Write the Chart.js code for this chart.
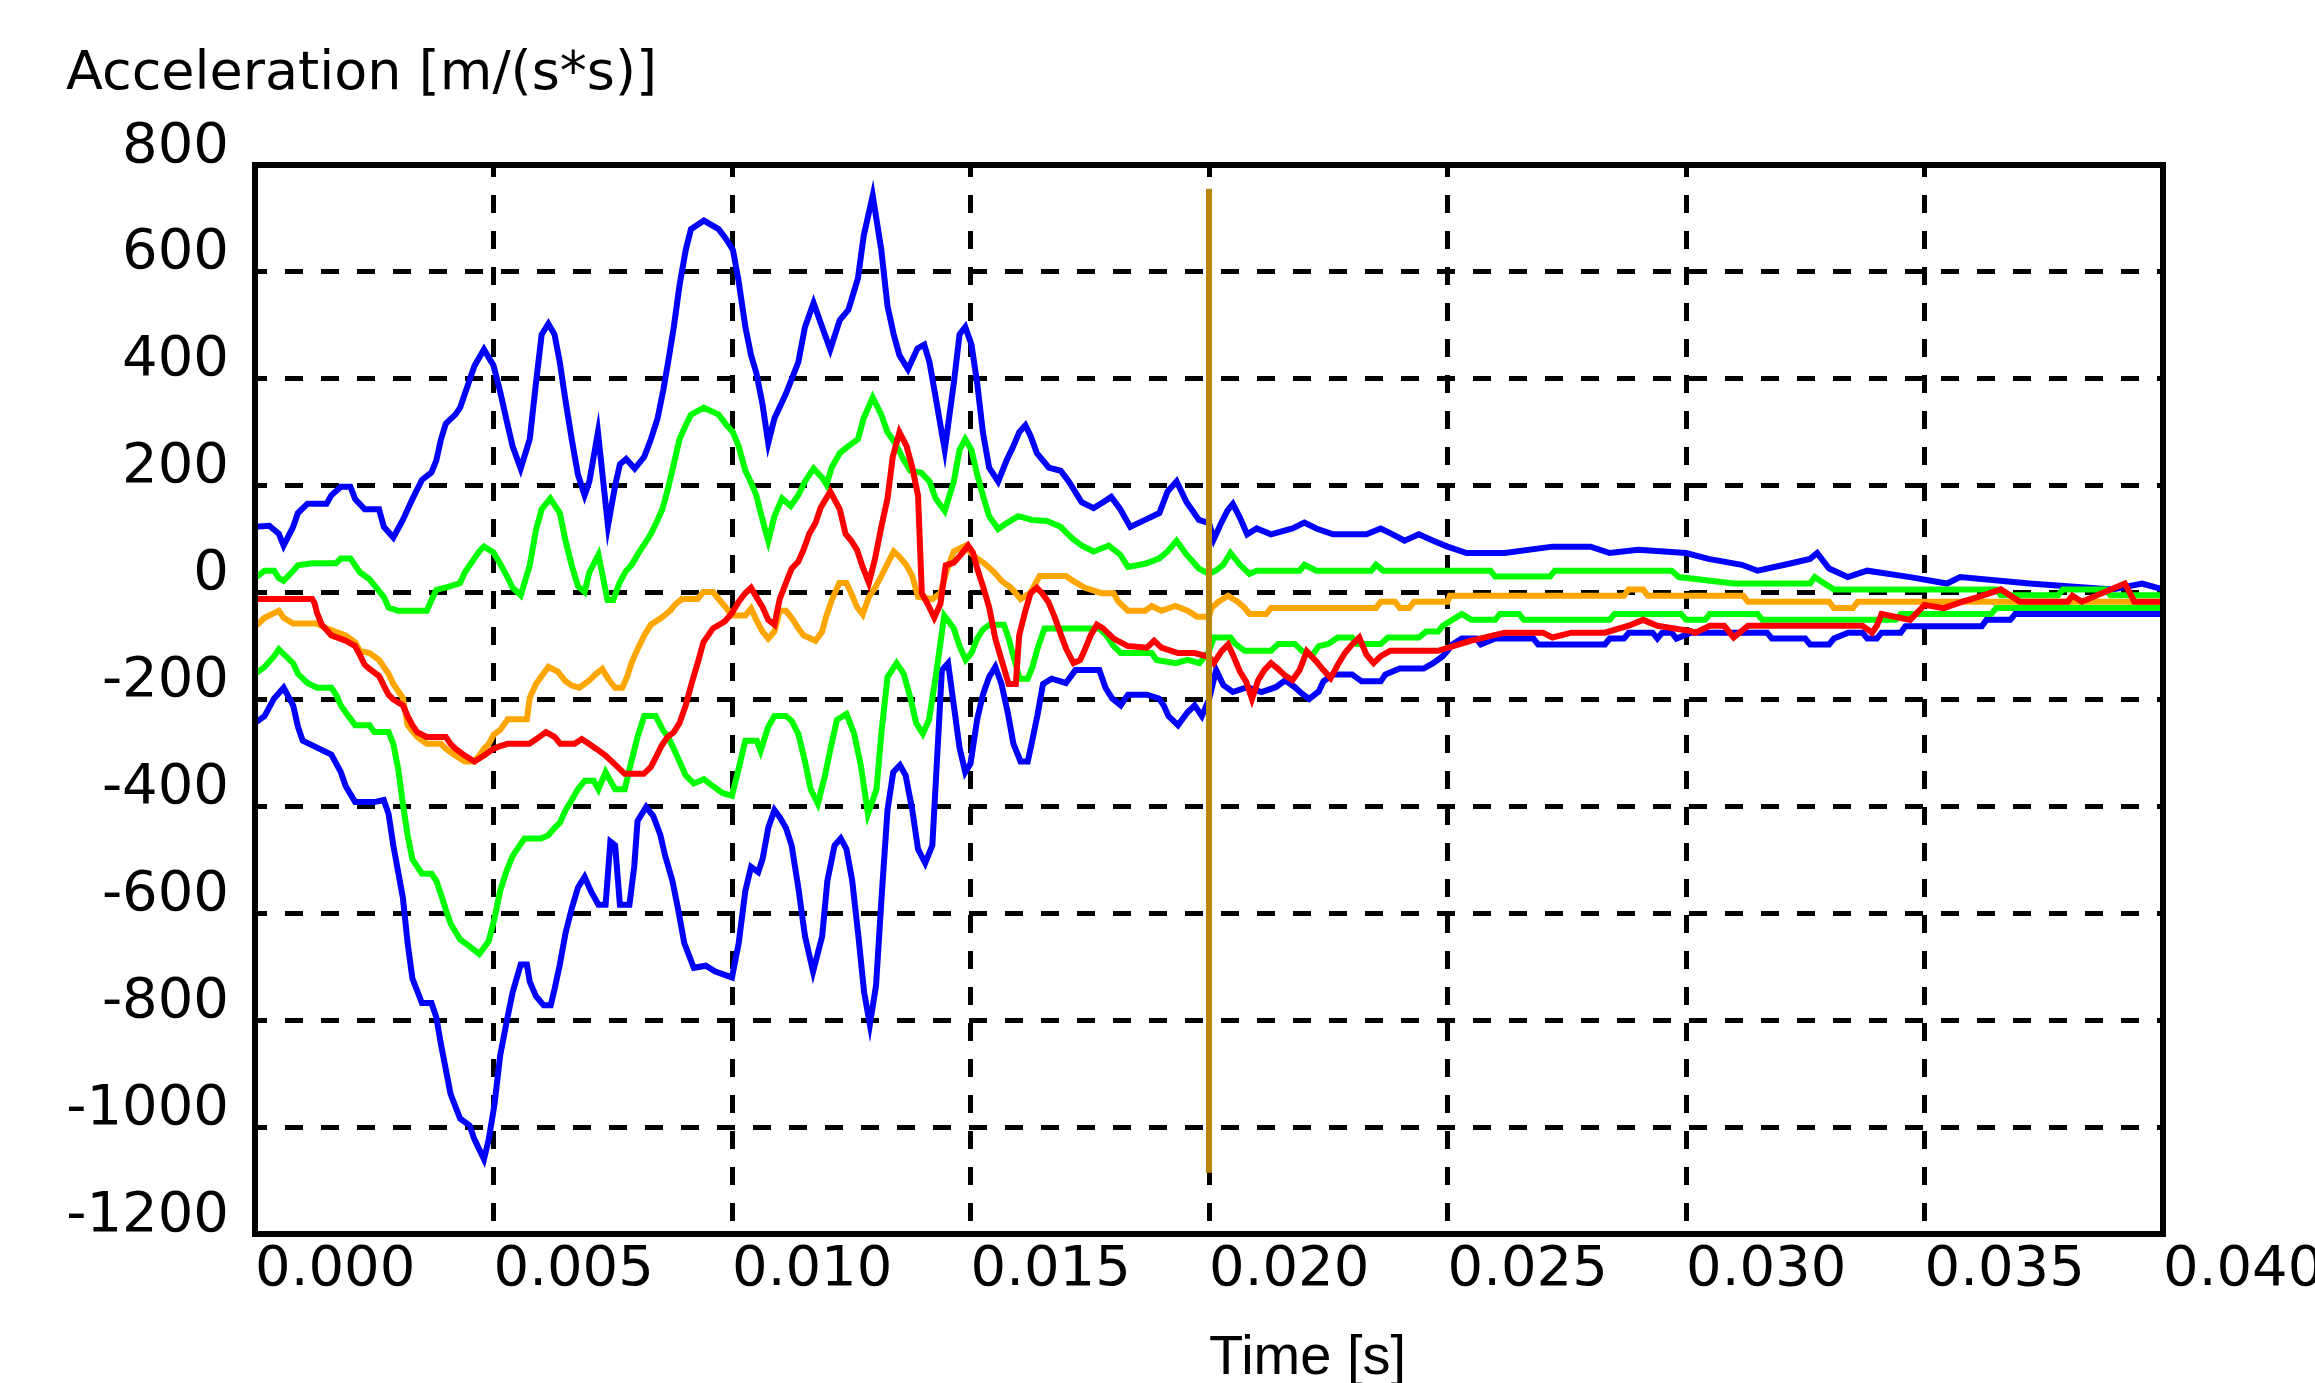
<!DOCTYPE html>
<html>
<head>
<meta charset="utf-8">
<script src="https://cdn.jsdelivr.net/npm/chart.js@4.4.1/dist/chart.umd.min.js"></script>
<style>
html, body { margin: 0; padding: 0; background: #fff; }
#wrap { width: 2315px; height: 1383px; }
</style>
</head>
<body>
<div id="wrap"><canvas id="chart" width="2315" height="1383"></canvas></div>
<script>
// axes
const yTicks = [800, 600, 400, 200, 0, -200, -400, -600, -800, -1000, -1200];
const xTicks = ['0.000', '0.005', '0.010', '0.015', '0.020', '0.025', '0.030', '0.035', '0.040'];
const yTitle = 'Acceleration [m/(s*s)]';
const xTitle = 'Time [s]';

// [time s, acceleration m/s2]
const blueUpper = [[0,123],[0.0003,125],[0.0005,110],[0.0006,88],[0.0008,123],[0.0009,149],[0.0011,166],[0.0015,166],[0.0016,182],[0.0018,198],[0.0020,198],[0.0021,175],[0.0023,156],[0.0026,156],[0.0027,123],[0.0029,103],[0.0031,136],[0.0033,175],[0.0035,211],[0.0037,225],[0.0038,247],[0.0039,287],[0.0040,316],[0.0042,333],[0.0043,346],[0.0044,372],[0.0046,424],[0.0048,455],[0.0050,425],[0.00515,372],[0.00528,320],[0.0054,274],[0.00557,232],[0.00576,287],[0.00589,392],[0.00601,483],[0.00615,503],[0.00628,483],[0.00639,431],[0.00651,359],[0.00664,287],[0.00677,221],[0.00691,182],[0.00701,208],[0.00719,300],[0.0074,125],[0.00755,200],[0.00765,240],[0.00778,250],[0.00796,232],[0.00816,254],[0.0083,287],[0.00844,326],[0.00856,379],[0.00866,431],[0.00878,497],[0.0089,575],[0.00903,641],[0.00914,680],[0.00941,696],[0.00972,680],[0.00989,660],[0.01002,641],[0.01014,582],[0.01028,497],[0.0104,444],[0.01051,411],[0.01064,352],[0.01076,280],[0.01089,326],[0.01113,372],[0.01139,431],[0.01153,497],[0.01171,542],[0.01189,497],[0.01206,455],[0.01226,510],[0.01244,529],[0.01264,588],[0.01276,667],[0.01295,743],[0.01313,641],[0.01326,536],[0.01339,483],[0.01351,444],[0.01369,418],[0.01389,457],[0.01403,464],[0.01414,431],[0.01427,365],[0.01446,267],[0.01465,392],[0.01477,483],[0.01489,497],[0.01502,464],[0.01514,392],[0.01526,300],[0.01539,234],[0.01558,208],[0.01576,248],[0.0159,274],[0.01602,300],[0.01615,313],[0.01626,293],[0.01639,261],[0.01664,234],[0.01689,228],[0.01706,208],[0.01733,169],[0.01758,158],[0.01778,169],[0.01795,179],[0.01814,156],[0.01835,123],[0.01866,136],[0.01896,149],[0.01913,189],[0.01932,208],[0.01953,169],[0.01979,136],[0.02,130],[0.0201,100],[0.02026,131],[0.02039,154],[0.0205,166],[0.02065,140],[0.0208,109],[0.021,120],[0.0213,109],[0.02175,120],[0.022,131],[0.02225,120],[0.0226,109],[0.0233,109],[0.0236,120],[0.02385,109],[0.0241,97],[0.0244,109],[0.0247,97],[0.025,86],[0.0254,74],[0.0262,74],[0.0272,86],[0.028,86],[0.0284,74],[0.029,80],[0.03,74],[0.03047,63],[0.03117,52],[0.0315,41],[0.03207,52],[0.0326,63],[0.03275,74],[0.033,45],[0.03339,29],[0.0338,41],[0.0347,29],[0.03547,17],[0.03575,29],[0.0372,17],[0.03894,6],[0.03956,17],[0.04,6]];

const greenUpper = [[0,27],[0.0002,41],[0.0004,41],[0.0005,27],[0.0006,22],[0.0008,41],[0.0009,51],[0.0012,55],[0.0017,55],[0.0018,64],[0.0020,64],[0.0021,51],[0.0022,38],[0.0024,25],[0.0025,14],[0.0027,-8],[0.0028,-28],[0.0030,-34],[0.0036,-34],[0.0037,-14],[0.0038,5],[0.0041,12],[0.0043,18],[0.0044,38],[0.0046,64],[0.0047,77],[0.0048,86],[0.0050,75],[0.00514,54],[0.00528,31],[0.0054,9],[0.00557,-5],[0.00576,51],[0.00589,117],[0.00601,156],[0.00619,176],[0.00639,149],[0.00651,97],[0.00664,51],[0.00677,12],[0.00691,1],[0.00701,38],[0.0072,71],[0.00739,-14],[0.00751,-14],[0.00764,18],[0.00778,41],[0.00789,51],[0.00802,71],[0.00816,90],[0.0083,110],[0.00841,130],[0.00854,156],[0.00866,195],[0.00878,241],[0.0089,287],[0.00903,313],[0.00914,333],[0.00941,346],[0.00972,333],[0.00989,313],[0.01002,300],[0.01014,274],[0.01028,228],[0.0104,206],[0.01051,182],[0.01064,136],[0.01076,97],[0.01089,143],[0.01105,176],[0.01123,162],[0.01139,182],[0.01153,208],[0.01171,232],[0.01189,215],[0.01198,202],[0.01209,234],[0.01226,261],[0.01244,274],[0.01264,287],[0.01276,326],[0.01295,365],[0.01313,333],[0.01326,300],[0.01342,280],[0.0136,248],[0.01374,228],[0.01397,224],[0.01414,208],[0.01427,176],[0.01446,153],[0.01465,208],[0.01477,267],[0.01489,287],[0.01502,267],[0.01514,221],[0.01526,182],[0.01539,143],[0.01558,119],[0.01576,130],[0.016,143],[0.0163,136],[0.0166,134],[0.01689,123],[0.017,113],[0.01714,101],[0.01733,88],[0.01758,77],[0.0179,88],[0.01814,71],[0.0183,48],[0.01866,54],[0.01896,64],[0.01913,77],[0.01932,97],[0.01953,71],[0.01979,45],[0.02,35],[0.02014,41],[0.0203,52],[0.02045,74],[0.02065,52],[0.02085,35],[0.021,41],[0.0219,41],[0.022,52],[0.02225,41],[0.0234,41],[0.0235,52],[0.02365,41],[0.0259,41],[0.026,30],[0.02715,30],[0.02725,41],[0.0297,41],[0.02985,29],[0.031,17],[0.0326,17],[0.0327,29],[0.0329,17],[0.0331,6],[0.0365,6],[0.0366,-5],[0.0378,-5],[0.0379,6],[0.0388,6],[0.0389,-5],[0.04,-5]];

const red = [[0,-12],[0.0012,-12],[0.00125,-20],[0.0013,-38],[0.0014,-60],[0.0016,-80],[0.0019,-90],[0.0021,-100],[0.0022,-117],[0.0023,-135],[0.0024,-143],[0.0026,-156],[0.0027,-174],[0.0028,-191],[0.0029,-200],[0.0031,-211],[0.0032,-231],[0.0033,-248],[0.0034,-261],[0.0036,-270],[0.004,-270],[0.0041,-283],[0.0042,-292],[0.0044,-305],[0.0046,-316],[0.0048,-305],[0.005,-292],[0.00514,-287],[0.0053,-283],[0.00575,-283],[0.0059,-274],[0.0061,-261],[0.00628,-270],[0.0064,-283],[0.0067,-283],[0.00685,-274],[0.007,-283],[0.00715,-292],[0.00735,-305],[0.0076,-326],[0.00775,-339],[0.00815,-339],[0.0083,-326],[0.0084,-309],[0.00852,-287],[0.00865,-270],[0.00878,-261],[0.0089,-244],[0.00903,-211],[0.00915,-171],[0.00928,-132],[0.0094,-93],[0.0096,-67],[0.00985,-54],[0.01,-38],[0.01014,-17],[0.01028,-1],[0.0104,9],[0.01051,-8],[0.01064,-27],[0.01076,-51],[0.01089,-60],[0.011,-12],[0.01113,18],[0.01125,45],[0.01139,58],[0.0115,80],[0.01162,110],[0.01175,130],[0.01186,159],[0.01206,189],[0.01226,156],[0.01238,110],[0.0125,97],[0.01262,80],[0.01274,48],[0.01287,18],[0.013,64],[0.01313,123],[0.01326,176],[0.01337,254],[0.01351,300],[0.01366,274],[0.01378,234],[0.0139,182],[0.01398,-1],[0.0141,-21],[0.01424,-47],[0.01437,-21],[0.01448,51],[0.01465,56],[0.0148,71],[0.01495,88],[0.01505,75],[0.01514,45],[0.01526,12],[0.01539,-27],[0.01552,-86],[0.01565,-126],[0.0158,-171],[0.01595,-171],[0.01602,-80],[0.01615,-34],[0.01626,-1],[0.01639,9],[0.0165,-1],[0.01663,-17],[0.01677,-47],[0.0169,-80],[0.01701,-106],[0.01716,-132],[0.0173,-126],[0.0174,-106],[0.01752,-80],[0.01765,-60],[0.01778,-67],[0.018,-86],[0.0183,-100],[0.0187,-103],[0.01885,-90],[0.019,-103],[0.01935,-113],[0.0197,-113],[0.02,-120],[0.0201,-132],[0.02026,-110],[0.0204,-97],[0.0205,-116],[0.02065,-148],[0.02078,-167],[0.0209,-199],[0.02103,-164],[0.02116,-145],[0.0213,-132],[0.02145,-143],[0.02158,-154],[0.02175,-164],[0.0219,-145],[0.02205,-110],[0.02225,-129],[0.0224,-145],[0.02255,-160],[0.0227,-135],[0.02285,-113],[0.023,-97],[0.02315,-84],[0.0233,-116],[0.02345,-132],[0.0236,-119],[0.0238,-109],[0.0248,-109],[0.0255,-90],[0.0262,-75],[0.027,-75],[0.0272,-84],[0.0276,-75],[0.0283,-75],[0.0288,-62],[0.0291,-51],[0.0294,-62],[0.0301,-72],[0.0302,-75],[0.0305,-62],[0.0308,-62],[0.031,-84],[0.0313,-62],[0.0337,-62],[0.0339,-75],[0.034,-62],[0.0341,-40],[0.0347,-51],[0.035,-23],[0.0354,-29],[0.0358,-17],[0.0362,-6],[0.0366,6],[0.037,-17],[0.038,-17],[0.0381,-6],[0.0383,-17],[0.0392,17],[0.0394,-17],[0.04,-17]];

const orange = [[0,-64],[0.0002,-47],[0.0005,-34],[0.0006,-47],[0.0008,-58],[0.0013,-58],[0.0015,-67],[0.0019,-80],[0.0021,-93],[0.0022,-109],[0.0024,-113],[0.0026,-126],[0.0028,-152],[0.0029,-171],[0.0031,-197],[0.0032,-248],[0.0034,-270],[0.0036,-283],[0.0039,-283],[0.004,-292],[0.0042,-305],[0.0044,-316],[0.0046,-316],[0.0047,-305],[0.0048,-292],[0.0049,-283],[0.005,-266],[0.00514,-257],[0.0053,-237],[0.0057,-237],[0.00576,-197],[0.00589,-171],[0.00601,-156],[0.00615,-139],[0.00635,-148],[0.0065,-165],[0.00664,-174],[0.0068,-178],[0.007,-165],[0.00715,-152],[0.00728,-143],[0.0074,-161],[0.00755,-178],[0.0077,-178],[0.0078,-158],[0.0079,-130],[0.00802,-106],[0.00816,-80],[0.0083,-60],[0.00852,-47],[0.0087,-34],[0.00882,-21],[0.00895,-12],[0.00928,-12],[0.0094,1],[0.0096,1],[0.00972,-12],[0.00989,-30],[0.01,-43],[0.01028,-43],[0.0104,-30],[0.01051,-51],[0.01064,-73],[0.01076,-86],[0.01089,-73],[0.011,-34],[0.01113,-34],[0.01125,-47],[0.01139,-67],[0.0115,-80],[0.01175,-90],[0.01189,-73],[0.01198,-43],[0.0121,-12],[0.01225,18],[0.0124,18],[0.0125,-1],[0.01262,-27],[0.01274,-41],[0.01287,-8],[0.013,9],[0.01313,31],[0.01326,54],[0.01339,77],[0.01351,67],[0.01366,51],[0.01378,31],[0.0139,-8],[0.0142,-12],[0.01437,-1],[0.0145,41],[0.01465,77],[0.0149,88],[0.015,75],[0.01514,64],[0.0153,54],[0.0155,38],[0.01565,22],[0.01585,9],[0.01605,-12],[0.01625,-1],[0.01645,31],[0.017,31],[0.01715,22],[0.0174,9],[0.01775,-1],[0.018,-1],[0.0181,-17],[0.0183,-34],[0.01866,-34],[0.0188,-25],[0.019,-34],[0.0193,-25],[0.01955,-34],[0.01975,-45],[0.02,-45],[0.02005,-29],[0.0202,-17],[0.0204,-6],[0.0206,-17],[0.02075,-29],[0.02085,-40],[0.0212,-40],[0.0213,-29],[0.0235,-29],[0.0236,-17],[0.0239,-17],[0.024,-29],[0.0242,-29],[0.0243,-17],[0.025,-17],[0.02505,-6],[0.0287,-6],[0.0288,6],[0.0291,6],[0.0292,-6],[0.0312,-6],[0.0313,-17],[0.033,-17],[0.0331,-29],[0.0335,-29],[0.0336,-17],[0.04,-17]];

const greenLower = [[0,-152],[0.0002,-139],[0.0004,-119],[0.0005,-106],[0.0008,-132],[0.0009,-152],[0.0011,-169],[0.0013,-178],[0.0016,-178],[0.0017,-191],[0.0018,-211],[0.0019,-224],[0.0021,-248],[0.0024,-248],[0.0025,-261],[0.0028,-261],[0.0029,-283],[0.003,-329],[0.0031,-395],[0.0032,-454],[0.0033,-499],[0.0035,-526],[0.0037,-526],[0.0038,-539],[0.0039,-565],[0.004,-593],[0.0041,-619],[0.0043,-649],[0.0045,-662],[0.0047,-676],[0.0049,-652],[0.00502,-610],[0.00514,-558],[0.00528,-519],[0.0054,-493],[0.00555,-473],[0.00565,-460],[0.006,-460],[0.00615,-454],[0.00628,-440],[0.00639,-431],[0.00651,-407],[0.00664,-388],[0.00677,-368],[0.00691,-352],[0.0071,-352],[0.0072,-368],[0.00735,-336],[0.00755,-368],[0.00775,-368],[0.00789,-316],[0.00802,-270],[0.00816,-231],[0.0084,-231],[0.00855,-257],[0.00866,-270],[0.00878,-292],[0.0089,-316],[0.00903,-342],[0.0092,-357],[0.00941,-349],[0.0096,-362],[0.0098,-375],[0.01,-380],[0.01014,-329],[0.01028,-277],[0.01052,-277],[0.0106,-296],[0.01076,-251],[0.01089,-231],[0.01113,-231],[0.01125,-240],[0.01139,-264],[0.01153,-316],[0.01165,-368],[0.0118,-395],[0.01195,-342],[0.01207,-290],[0.0122,-238],[0.0124,-227],[0.01256,-264],[0.0127,-323],[0.01285,-414],[0.01303,-368],[0.01313,-264],[0.01326,-158],[0.01345,-132],[0.0136,-152],[0.01374,-197],[0.01386,-244],[0.014,-264],[0.01413,-238],[0.01427,-158],[0.01445,-43],[0.01465,-67],[0.01477,-100],[0.0149,-126],[0.01502,-113],[0.01514,-86],[0.01526,-69],[0.0154,-60],[0.0157,-60],[0.0158,-86],[0.0159,-119],[0.01603,-161],[0.0162,-161],[0.0163,-139],[0.0164,-106],[0.01655,-67],[0.0177,-67],[0.01785,-80],[0.018,-100],[0.01815,-113],[0.0188,-113],[0.0189,-126],[0.0193,-132],[0.01955,-126],[0.0198,-132],[0.02,-110],[0.0201,-84],[0.02045,-84],[0.02055,-96],[0.02075,-109],[0.0213,-109],[0.02145,-96],[0.0218,-96],[0.02195,-109],[0.02215,-119],[0.0223,-100],[0.0225,-96],[0.0227,-84],[0.023,-84],[0.0231,-96],[0.0236,-96],[0.02375,-84],[0.0244,-84],[0.02455,-73],[0.0248,-73],[0.0249,-62],[0.0251,-51],[0.0253,-40],[0.0255,-51],[0.026,-51],[0.0261,-40],[0.0265,-40],[0.0266,-51],[0.0284,-51],[0.0285,-40],[0.0299,-40],[0.03,-51],[0.0304,-51],[0.0305,-40],[0.0315,-40],[0.0316,-51],[0.0344,-51],[0.0345,-40],[0.0364,-40],[0.0365,-29],[0.04,-29]];

const blueLower = [[0,-244],[0.0002,-231],[0.0004,-198],[0.0006,-178],[0.0008,-211],[0.0009,-251],[0.001,-277],[0.0013,-290],[0.0016,-303],[0.0018,-336],[0.0019,-362],[0.0021,-392],[0.0025,-392],[0.0027,-388],[0.0028,-414],[0.0029,-473],[0.0031,-571],[0.0032,-656],[0.0033,-722],[0.0035,-768],[0.0037,-768],[0.0038,-794],[0.0039,-846],[0.004,-892],[0.0041,-938],[0.0043,-984],[0.0045,-997],[0.0046,-1023],[0.0048,-1060],[0.0049,-1023],[0.00502,-958],[0.00514,-866],[0.00528,-801],[0.0054,-748],[0.00557,-696],[0.0057,-696],[0.00576,-728],[0.00589,-755],[0.00605,-772],[0.0062,-772],[0.00628,-742],[0.00639,-696],[0.00651,-637],[0.00664,-591],[0.00677,-552],[0.00691,-532],[0.00705,-560],[0.0072,-584],[0.00735,-584],[0.00745,-466],[0.00755,-473],[0.00765,-584],[0.00785,-584],[0.00795,-513],[0.00802,-427],[0.0082,-401],[0.00835,-418],[0.0085,-454],[0.0086,-493],[0.00875,-539],[0.00888,-597],[0.009,-656],[0.0092,-702],[0.00945,-698],[0.00965,-709],[0.01,-720],[0.01014,-656],[0.01028,-558],[0.0104,-513],[0.01055,-523],[0.01064,-499],[0.01076,-440],[0.01089,-407],[0.011,-420],[0.01113,-440],[0.01125,-473],[0.01139,-552],[0.01153,-643],[0.0117,-709],[0.01189,-643],[0.012,-539],[0.01215,-473],[0.01228,-460],[0.0124,-480],[0.01252,-539],[0.01265,-643],[0.01277,-748],[0.01289,-808],[0.01302,-735],[0.01313,-578],[0.01326,-407],[0.01338,-336],[0.01352,-323],[0.01364,-342],[0.01378,-407],[0.0139,-480],[0.01405,-506],[0.0142,-473],[0.01428,-342],[0.0144,-145],[0.01453,-132],[0.01465,-211],[0.01477,-290],[0.01489,-336],[0.015,-320],[0.01514,-237],[0.01526,-191],[0.01539,-158],[0.01552,-139],[0.01565,-171],[0.01578,-224],[0.0159,-283],[0.01605,-316],[0.0162,-316],[0.01628,-283],[0.0164,-231],[0.01652,-171],[0.0167,-161],[0.017,-169],[0.0172,-145],[0.0177,-145],[0.01783,-178],[0.01797,-198],[0.01815,-211],[0.0183,-191],[0.0187,-191],[0.01895,-198],[0.01905,-211],[0.01915,-231],[0.01935,-248],[0.01955,-224],[0.0197,-211],[0.01985,-231],[0.02,-200],[0.02015,-145],[0.0203,-173],[0.0205,-186],[0.0208,-177],[0.0211,-186],[0.0214,-177],[0.0216,-164],[0.0218,-177],[0.02195,-189],[0.0221,-199],[0.0223,-185],[0.0224,-166],[0.0226,-153],[0.023,-153],[0.0232,-166],[0.0236,-166],[0.0237,-153],[0.024,-142],[0.0245,-142],[0.0247,-132],[0.0249,-119],[0.025,-109],[0.0251,-97],[0.0253,-86],[0.0256,-86],[0.0257,-97],[0.026,-86],[0.0268,-86],[0.0269,-97],[0.0283,-97],[0.0284,-86],[0.0287,-86],[0.0288,-75],[0.0293,-75],[0.0294,-86],[0.0295,-75],[0.0297,-75],[0.0298,-86],[0.0301,-75],[0.0317,-75],[0.0318,-86],[0.0325,-86],[0.0326,-97],[0.033,-97],[0.0331,-86],[0.0334,-75],[0.0337,-75],[0.0338,-86],[0.034,-86],[0.0341,-75],[0.0345,-75],[0.0346,-63],[0.0362,-63],[0.0363,-51],[0.0368,-51],[0.0369,-40],[0.04,-40]];

// cursor line
const cursor = [[0.02, 750], [0.02, -1080]];

function pts(arr) {
    return arr.map(p => ({x: p[0], y: p[1]}));
}

function line(data, color, width) {
    return {
        data: pts(data),
        borderColor: color,
        borderWidth: width,
        pointRadius: 0,
        tension: 0,
        fill: false,
        borderJoinStyle: 'miter',
        borderCapStyle: 'square'
    };
}

// frame and titles
const decor = {
    id: 'decor',
    afterDatasetsDraw(chart) {
        const a = chart.chartArea;
        const c = chart.ctx;
        c.save();
        c.strokeStyle = '#000';
        c.lineWidth = 6;
        c.strokeRect(a.left, a.top, a.right - a.left, a.bottom - a.top);
        c.restore();
    },
    afterDraw(chart) {
        const c = chart.ctx;
        const a = chart.chartArea;
        c.save();
        c.fillStyle = '#000';
        c.textBaseline = 'alphabetic';
        c.textAlign = 'left';
        c.font = '54px "DejaVu Sans"';
        c.fillText(yTitle, 66, 89);
        c.font = '56px "Liberation Sans"';
        c.fillText(xTitle, (a.left + a.right) / 2, 1374);
        c.restore();
    }
};

const ctx = document.getElementById('chart').getContext('2d');
new Chart(ctx, {
    type: 'line',
    data: {
        datasets: [
            line(cursor, '#b8860b', 6),
            line(red, '#ff0000', 6),
            line(orange, '#ffa500', 6),
            line(greenUpper, '#00ff00', 6),
            line(greenLower, '#00ff00', 6),
            line(blueUpper, '#0000ff', 6),
            line(blueLower, '#0000ff', 6)
        ]
    },
    options: {
        responsive: false,
        animation: false,
        devicePixelRatio: 1,
        layout: { padding: { top: 165, left: 0, right: 152, bottom: 0 } },
        plugins: {
            legend: { display: false },
            tooltip: { enabled: false }
        },
        scales: {
            x: {
                type: 'linear',
                min: 0,
                max: 0.04,
                grid: { color: '#000', lineWidth: 5, drawTicks: false },
                border: { display: false, dash: [18, 18], dashOffset: 6 },
                ticks: {
                    stepSize: 0.005,
                    autoSkip: false,
                    maxRotation: 0,
                    align: 'start',
                    padding: 3,
                    color: '#000',
                    font: { family: '"DejaVu Sans"', size: 56 },
                    callback: (v, i) => xTicks[i]
                },
                afterFit(s) { s.height = 149; s.paddingLeft = 0; s.paddingRight = 0; }
            },
            y: {
                type: 'linear',
                min: -1200,
                max: 800,
                grid: { color: '#000', lineWidth: 5, drawTicks: false },
                border: { display: false, dash: [18, 18], dashOffset: 6 },
                ticks: {
                    stepSize: 200,
                    autoSkip: false,
                    padding: 26,
                    labelOffset: -18,
                    color: '#000',
                    font: { family: '"DejaVu Sans"', size: 56 },
                    callback: (v) => String(yTicks.find(t => t === v))
                },
                afterFit(s) { s.width = 255; s.paddingTop = 0; s.paddingBottom = 0; }
            }
        }
    },
    plugins: [decor]
});
</script>
</body>
</html>
